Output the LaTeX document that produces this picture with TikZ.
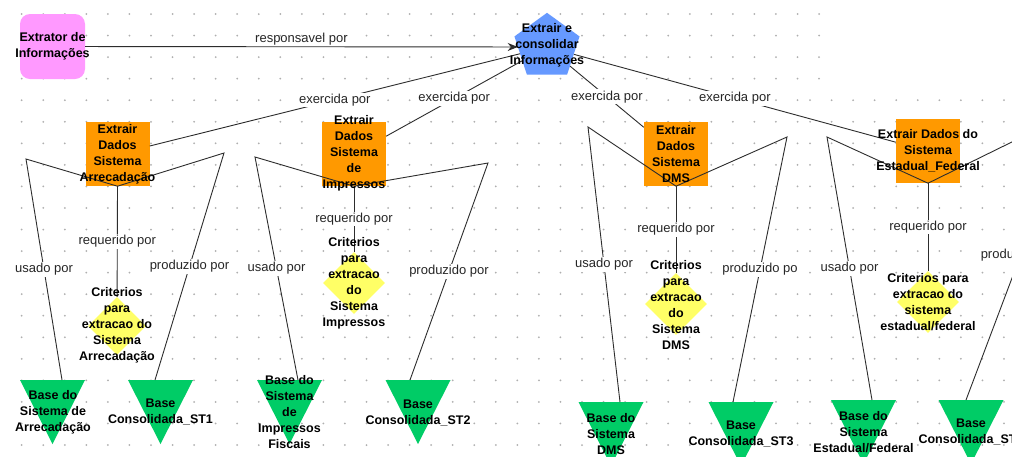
\documentclass[tikz,border=0pt]{standalone}
\usepackage{fontspec}
\setmainfont{Liberation Sans}
\usetikzlibrary{shapes.geometric,arrows.meta}

\definecolor{extpink}{RGB}{255,153,255}
\definecolor{procblue}{RGB}{102,153,255}
\definecolor{taskorange}{RGB}{255,153,0}
\definecolor{crityellow}{RGB}{255,255,102}
\definecolor{basegreen}{RGB}{0,204,102}
\definecolor{linkgray}{RGB}{45,45,45}
\definecolor{gridgray}{RGB}{175,175,175}

\begin{document}
\begin{tikzpicture}[x=1pt,y=-1pt,
  nodetext/.style={font=\fontsize{12.5}{16}\selectfont\bfseries, align=center, inner sep=0pt},
  actor/.style={rectangle, rounded corners=10pt, fill=extpink, minimum width=65pt, minimum height=65pt, inner sep=0pt},
  goal/.style={regular polygon, regular polygon sides=5, fill=procblue, minimum size=68.4pt, inner sep=0pt},
  task/.style={rectangle, fill=taskorange, minimum width=64pt, minimum height=64pt, inner sep=0pt},
  crit/.style={diamond, fill=crityellow, minimum width=62pt, minimum height=62pt, inner sep=0pt},
  basetri/.style={fill=basegreen},
  link/.style={draw=linkgray, line width=0.9pt},
  elab/.style={font=\fontsize{13}{16}\selectfont, text=black!85, fill=white, inner sep=1.2pt},
]
\path[use as bounding box] (0,0) rectangle (1012,456);
\clip (0,0) rectangle (1012,456);
\fill[white] (0,0) rectangle (1012,456);

% dotted canvas grid
\foreach \j in {0,...,20}{
  \pgfmathsetmacro\gy{14+21.55*\j}
  \pgfmathtruncatemacro\imax{\j<4 ? 37 : 36}
  \foreach \i in {0,...,\imax}{
    \fill[gridgray] (21.7+21.55*\i,\gy) circle (1pt);
  }
}
\foreach \j in {4,...,20}{
  \foreach \i in {0,...,9}{
    \fill[gridgray] (810+21.55*\i,14+21.55*\j) circle (1pt);
  }
}

% shapes
\node[actor] (ext) at (52.5,46.5) {};
\node[goal] (cons) at (547,47) {};
\node[task] (b1) at (117.5,154) {};
\node[task] (b2) at (354,154) {};
\node[task] (b3) at (676,154) {};
\node[task] (b4) at (928,151) {};
\node[crit, minimum width=58pt, minimum height=58pt] (d1) at (117,326) {};
\node[crit] (d2) at (354,283) {};
\node[crit] (d3) at (676,304) {};
\node[crit] (d4) at (928,302) {};

% resource triangles (pointing down)
\foreach \cx/\ty in {52.5/380, 160.5/380, 289.5/380, 418/380, 611/402, 741/402, 863.5/400, 971/400}
  \fill[basetri] (\cx-32.5,\ty) -- (\cx+32.5,\ty) -- (\cx,\ty+64) -- cycle;

% bend points and triangle entry points
\coordinate (u1) at (26,159);   \coordinate (p1) at (224,153);
\coordinate (u2) at (255,157);  \coordinate (p2) at (488,163);
\coordinate (u3) at (588,127);  \coordinate (p3) at (787,137);
\coordinate (u4) at (827,137);  \coordinate (p4) at (1075,111);
\coordinate (r1) at (62,380);   \coordinate (r2) at (155,380);
\coordinate (r3) at (298,380);  \coordinate (r4) at (410,380);
\coordinate (r5) at (620,402);  \coordinate (r6) at (733,402);
\coordinate (r7) at (872,400);  \coordinate (r8) at (966,400);

% connectors
\draw[link, -{Stealth[length=10pt,width=8pt]}] (ext) --
  node[above, font=\fontsize{13}{16}\selectfont, text=black!85, inner sep=1.2pt] {responsavel por} (cons);

\draw[link] (cons) -- node[elab] {exercida por} (b1);
\draw[link] (cons) -- node[elab] {exercida por} (b2);
\draw[link] (cons) -- node[elab] {exercida por} (b3);
\draw[link] (cons) -- node[elab] {exercida por} (b4);

\draw[link] (b1.south) -- node[elab] {requerido por} (d1);
\draw[link] (b2.south) -- node[elab] {requerido por} (d2);
\draw[link] (b3.south) -- node[elab] {requerido por} (d3);
\draw[link] (b4.south) -- node[elab] {requerido por} (d4);

\draw[link] (b1.south) -- (u1) -- node[elab] {usado por} (r1);
\draw[link] (b1.south) -- (p1) -- node[elab] {produzido por} (r2);
\draw[link] (b2.south) -- (u2) -- node[elab] {usado por} (r3);
\draw[link] (b2.south) -- (p2) -- node[elab] {produzido por} (r4);
\draw[link] (b3.south) -- (u3) -- node[elab] {usado por} (r5);
\draw[link] (b3.south) -- (p3) -- node[elab] {produzido po} (r6);
\draw[link] (b4.south) -- (u4) -- node[elab] {usado por} (r7);
\draw[link] (b4.south) -- (p4) -- node[elab] {produzido por} (r8);

% texts
\node[nodetext] (extT) at (52.5,46) {Extrator de\\Informações};
\node[nodetext] (consT) at (547,45) {Extrair e\\consolidar\\Informações};
\node[nodetext] (b1T) at (117.5,154) {Extrair\\Dados\\Sistema\\Arrecadação};
\node[nodetext] (b2T) at (354,153.5) {Extrair\\Dados\\Sistema\\de\\Impressos};
\node[nodetext] (b3T) at (676,154) {Extrair\\Dados\\Sistema\\DMS};
\node[nodetext] (b4T) at (928,151) {Extrair Dados do\\Sistema\\Estadual\_Federal};
\node[nodetext] (d1T) at (117,325.5) {Criterios\\para\\extracao do\\Sistema\\Arrecadação};
\node[nodetext] (d2T) at (354,283.5) {Criterios\\para\\extracao\\do\\Sistema\\Impressos};
\node[nodetext] (d3T) at (676,305) {Criterios\\para\\extracao\\do\\Sistema\\DMS};
\node[nodetext] (d4T) at (928,302.5) {Criterios para\\extracao do\\sistema\\estadual/federal};
\node[nodetext] (t1T) at (53,412) {Base do\\Sistema de\\Arrecadação};
\node[nodetext] (t2T) at (160.5,412) {Base\\Consolidada\_ST1};
\node[nodetext] (t3T) at (289.5,412) {Base do\\Sistema\\de\\Impressos\\Fiscais};
\node[nodetext] (t4T) at (418,413) {Base\\Consolidada\_ST2};
\node[nodetext] (t5T) at (611,434) {Base do\\Sistema\\DMS};
\node[nodetext] (t6T) at (741,434) {Base\\Consolidada\_ST3};
\node[nodetext] (t7T) at (863.5,432) {Base do\\Sistema\\Estadual/Federal};
\node[nodetext] (t8T) at (971,432) {Base\\Consolidada\_ST4};
\end{tikzpicture}
\end{document}
